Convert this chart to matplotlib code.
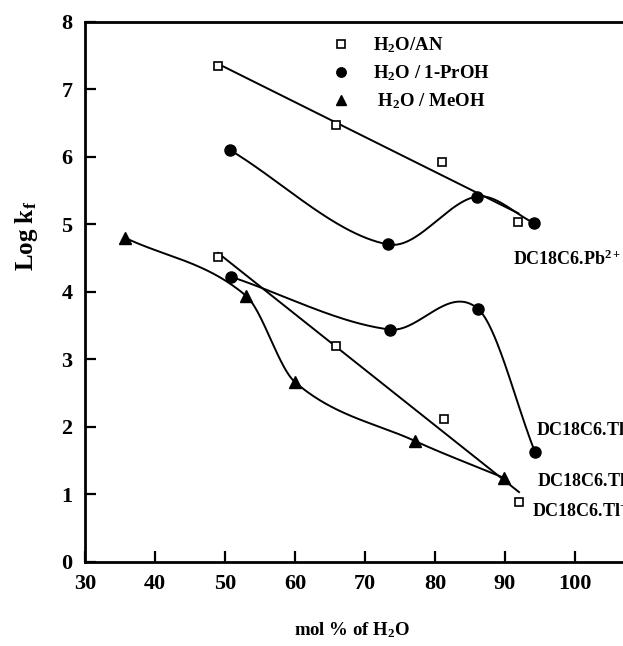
import numpy as np
import matplotlib
matplotlib.use("Agg")
import matplotlib.pyplot as plt

plt.rcParams['font.family'] = 'Liberation Serif'
plt.rcParams['font.weight'] = 'bold'
plt.rcParams['mathtext.fontset'] = 'custom'
plt.rcParams['mathtext.rm'] = 'Liberation Serif:bold'
plt.rcParams['mathtext.it'] = 'Liberation Serif:italic:bold'
plt.rcParams['mathtext.bf'] = 'Liberation Serif:bold'

# H2O / AN
an_pb_x = [49.0, 65.8, 81.0, 91.9]
an_pb_y = [7.35, 6.47, 5.92, 5.03]
an_tl_x = [49.0, 65.9, 81.3, 92.0]
an_tl_y = [4.52, 3.19, 2.11, 0.88]

# H2O / 1-PrOH
pr_pb_x = [50.7, 73.3, 86.0, 94.1]
pr_pb_y = [6.10, 4.70, 5.41, 5.02]
pr_tl_x = [50.9, 73.5, 86.1, 94.3]
pr_tl_y = [4.22, 3.44, 3.75, 1.62]

# H2O / MeOH
me_tl_x = [35.7, 53.0, 60.0, 77.1, 89.9]
me_tl_y = [4.80, 3.94, 2.66, 1.79, 1.24]


def smooth_curve(x, y, n=60):
	# cardinal (Catmull-Rom) Hermite spline through the points
	x = np.asarray(x, float)
	y = np.asarray(y, float)
	m = np.zeros(len(x))
	m[0] = (y[1] - y[0]) / (x[1] - x[0])
	m[-1] = (y[-1] - y[-2]) / (x[-1] - x[-2])
	m[1:-1] = (y[2:] - y[:-2]) / (x[2:] - x[:-2])
	xs, ys = [], []
	for i in range(len(x) - 1):
		h = x[i + 1] - x[i]
		t = np.linspace(0, 1, n)
		h00 = 2 * t**3 - 3 * t**2 + 1
		h10 = t**3 - 2 * t**2 + t
		h01 = -2 * t**3 + 3 * t**2
		h11 = t**3 - t**2
		xs.append(x[i] + t * h)
		ys.append(h00 * y[i] + h10 * h * m[i] + h01 * y[i + 1] + h11 * h * m[i + 1])
	return np.concatenate(xs), np.concatenate(ys)


fig = plt.figure(figsize=(6.23, 6.46), dpi=100)
ax = fig.add_axes([85 / 623, 1 - 561.7 / 646, 560 / 623, 540 / 646])

lw = 1.4
for xs, ys in [(an_pb_x, an_pb_y), (an_tl_x, an_tl_y)]:
	p = np.polyfit(xs, ys, 1)
	xx = np.array([xs[0], xs[-1]])
	ax.plot(xx, np.polyval(p, xx), color='black', lw=lw)

for xs, ys in [(pr_pb_x, pr_pb_y), (pr_tl_x, pr_tl_y), (me_tl_x, me_tl_y)]:
	sx, sy = smooth_curve(xs, ys)
	ax.plot(sx, sy, color='black', lw=lw)

ax.plot(an_pb_x + an_tl_x, an_pb_y + an_tl_y, ls='none', marker='s', ms=6,
	mfc='white', mec='black', mew=1.2, label='H$\\mathregular{_2}$O/AN')
ax.plot(pr_pb_x + pr_tl_x, pr_pb_y + pr_tl_y, ls='none', marker='o', ms=8,
	color='black', label='H$\\mathregular{_2}$O / 1-PrOH')
ax.plot(me_tl_x, me_tl_y, ls='none', marker='^', ms=8,
	color='black', label=' H$\\mathregular{_2}$O / MeOH')

leg = ax.legend(loc='upper left', bbox_to_anchor=(322 / 623, 1 - 26 / 646),
	bbox_transform=fig.transFigure, frameon=False, fontsize=13.5,
	handlelength=1.0, handletextpad=1.2, labelspacing=0.45, borderpad=0,
	markerscale=0.85)

ax.text(91.1, 4.40, 'DC18C6.Pb$\\mathregular{^{2+}}$', fontsize=13, clip_on=False)
ax.text(94.4, 1.88, 'DC18C6.Tl$\\mathregular{^{+}}$', fontsize=13, clip_on=False)
ax.text(94.6, 1.12, 'DC18C6.Tl$\\mathregular{^{+}}$', fontsize=13, clip_on=False)
ax.text(93.9, 0.67, 'DC18C6.Tl$\\mathregular{^{+}}$', fontsize=13, clip_on=False)

ax.set_xlim(30, 110)
ax.set_ylim(0, 8)
ax.set_xticks(np.arange(30, 111, 10))
ax.set_yticks(np.arange(0, 9, 1))
ax.tick_params(direction='in', length=8, width=1.6, labelsize=16, pad=9)
for s in ax.spines.values():
	s.set_linewidth(2.0)

fig.text(26 / 623, 1 - 236 / 646, 'Log k$\\mathregular{_f}$', rotation=90,
	ha='center', va='center', fontsize=18)
fig.text(352 / 623, 1 - 630 / 646, 'mol % of H$\\mathregular{_2}$O',
	ha='center', va='center', fontsize=13.5)

fig.savefig('out.png', dpi=100)
